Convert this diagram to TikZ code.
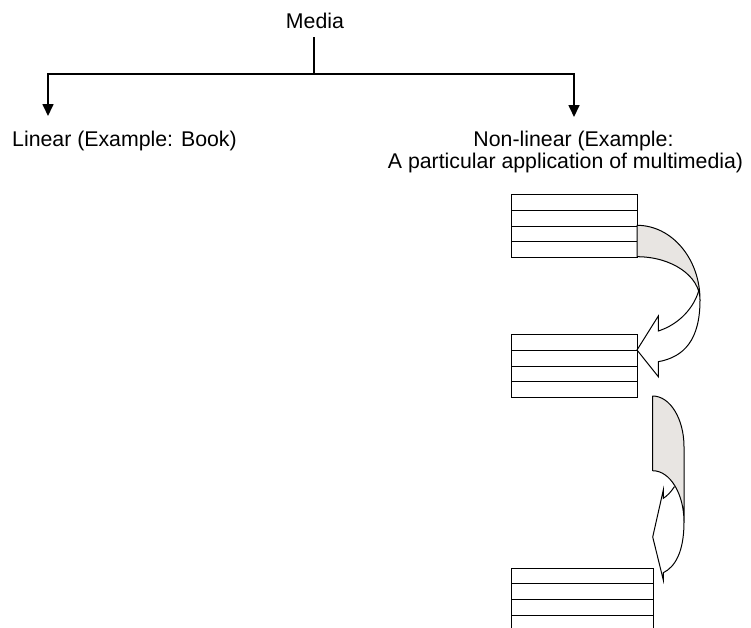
\documentclass[tikz,border=0pt]{standalone}
\usepackage{fontspec}
\setmainfont{Liberation Sans}
\usetikzlibrary{arrows.meta,calc}
\definecolor{bandgray}{RGB}{232,229,226}
\tikzset{
  lbl/.style={inner sep=0pt, font=\fontsize{21.3}{25}\selectfont},
  tree/.style={line width=1.7pt, line join=miter},
  treearrow/.style={tree, -{Triangle[width=11pt,length=12pt]}},
  recbox/.style={draw, line width=1pt, inner sep=0pt, anchor=north west},
  rowline/.style={line width=1pt},
  band/.style={draw, line width=1pt, fill=bandgray, line join=round},
  front/.style={draw, line width=1pt, line join=miter},
}
\begin{document}
\begin{tikzpicture}[x=1pt,y=-1pt]
\useasboundingbox (0,0) rectangle (751,627);
\begin{scope}
\clip (0,0) rectangle (751,627);
% texts
\node[lbl, anchor=base] (media) at (315,28.5) {Media};
\node[lbl, anchor=base west] (lin) at (12,146.5) {Linear (Example: Book)};
\node[lbl, anchor=base] (nl1) at (573.5,146.5) {Non-linear (Example:};
\node[lbl, anchor=base] (nl2) at (565.5,168.8) {A particular application of multimedia)};
% tree
\coordinate (mbot) at (314,37);
\coordinate (hl) at (48,74);
\coordinate (hr) at (574,74);
\coordinate (hm) at (314,74);
\coordinate (tl) at (48,116);
\coordinate (tr) at (574,117);
\draw[tree] (mbot) -- (hm);
\draw[treearrow] (hm) -- (hl) -- (tl);
\draw[treearrow] (hm) -- (hr) -- (tr);
% boxes
\node[recbox, minimum width=126pt, minimum height=62.4pt] (b1) at (511,194.3) {};
\node[recbox, minimum width=126pt, minimum height=62.4pt] (b2) at (511,334.3) {};
\node[recbox, minimum width=141.7pt, minimum height=62.4pt] (b3) at (511,567.7) {};
\foreach \b in {b1,b2,b3}{
  \foreach \f in {0.25,0.5,0.75}{
    \draw[rowline] ($(\b.north west)!\f!(\b.south west)$) -- ($(\b.north east)!\f!(\b.south east)$);
  }
}
% curved arrow 1 (back band)
\coordinate (a1o) at (637,225.3);
\coordinate (a1i) at (637,256.7);
\draw[band] (a1o) arc[start angle=-90, end angle=0, x radius=63, y radius=74.7]
  arc[start angle=0, end angle=-90, x radius=63, y radius=43.3] -- cycle;
% front of arrow 1
\coordinate (a1br) at (698.6,291);
\coordinate (a1ob) at (700,300);
\coordinate (a1b1) at (658.3,331);
\coordinate (a1u) at (658.3,316);
\coordinate (a1tip) at (637,350);
\coordinate (a1d) at (658.3,376.7);
\coordinate (a1b2) at (658.3,361.7);
\draw[front] (a1br) .. controls (694,307) and (680,324) .. (a1b1) -- (a1u) -- (a1tip) -- (a1d) -- (a1b2)
  .. controls (684,357) and (700,340) .. (a1ob);
% curved arrow 2 (back band)
\coordinate (a2o) at (652.7,396);
\draw[band] (a2o) arc[start angle=-90, end angle=0, x radius=31.3, y radius=50.7] -- (684,522)
  arc[start angle=0, end angle=-90, x radius=31.3, y radius=51.3] -- cycle;
% front of arrow 2
\coordinate (a2br) at (674.5,486.5);
\coordinate (a2b1) at (663.3,498.3);
\coordinate (a2u) at (663.3,490);
\coordinate (a2tip) at (652.7,537);
\coordinate (a2d) at (663.3,580);
\coordinate (a2b2) at (663.3,572.7);
\coordinate (a2ob) at (684,522);
\draw[front] (a2br) .. controls (671,492) and (667,496) .. (a2b1) -- (a2u) -- (a2tip) -- (a2d) -- (a2b2)
  .. controls (675,567) and (684,552) .. (a2ob);
\end{scope}
\end{tikzpicture}
\end{document}
